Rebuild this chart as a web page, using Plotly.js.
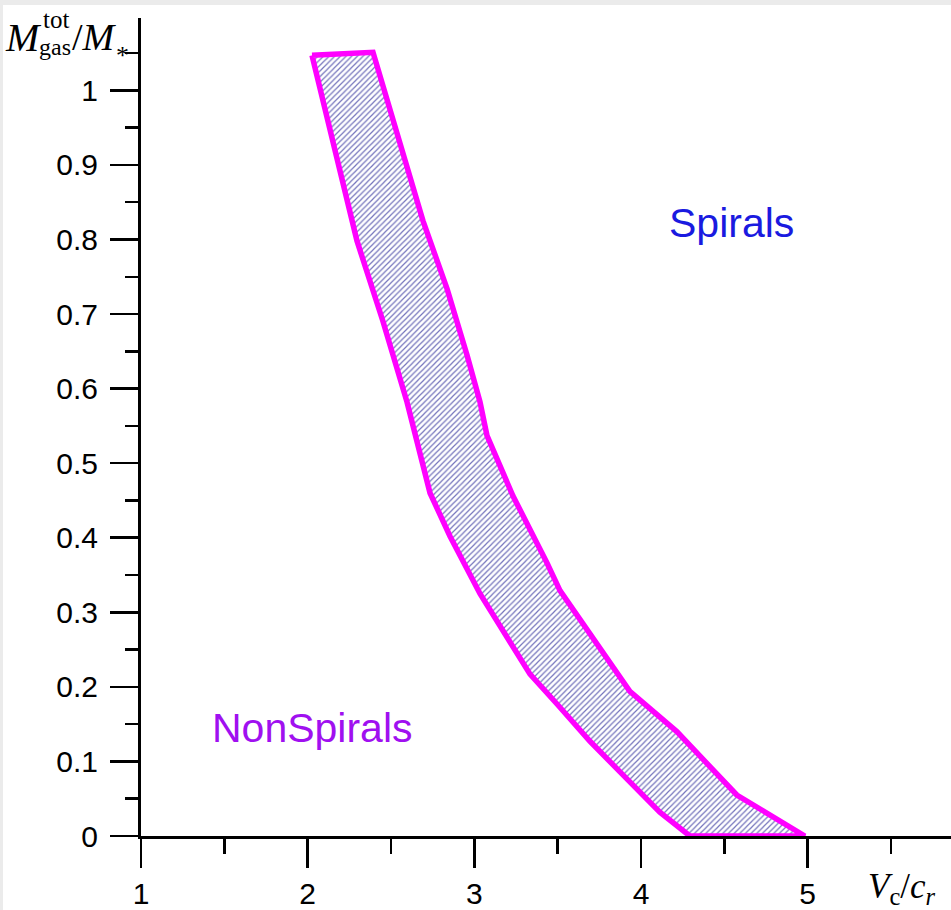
<!DOCTYPE html>
<html>
<head>
<meta charset="utf-8">
<script src="https://cdn.plot.ly/plotly-3.0.1.min.js"></script>
<style>
  html, body { margin: 0; padding: 0; background: #ebebeb; width: 951px; height: 910px; overflow: hidden; }
  #chart { position: absolute; left: 3px; top: 5px; width: 948px; height: 905px; background: #fff; }
</style>
</head>
<body>
<div id="chart"></div>
<script>
// Lower (left) boundary of the band, from top to bottom
const lowerX = [2.026, 2.296, 2.452, 2.596, 2.734, 2.854, 3.034, 3.232, 3.334, 3.496, 3.694, 3.874, 4.113, 4.293];
const lowerY = [1.047, 0.798, 0.690, 0.582, 0.460, 0.402, 0.325, 0.254, 0.217, 0.177, 0.127, 0.086, 0.032, 0.000];
// Upper (right) boundary of the band, from bottom to top
const upperX = [4.983, 4.575, 4.335, 4.215, 3.933, 3.676, 3.514, 3.436, 3.232, 3.076, 3.034, 2.956, 2.836, 2.692, 2.494, 2.392];
const upperY = [0.000, 0.055, 0.113, 0.140, 0.194, 0.275, 0.329, 0.366, 0.456, 0.537, 0.582, 0.645, 0.734, 0.825, 0.977, 1.051];

const xTickVals = [1, 2, 3, 4, 5];
const xTickText = ['1', '2', '3', '4', '5'];
const yTickVals = [0, 0.1, 0.2, 0.3, 0.4, 0.5, 0.6, 0.7, 0.8, 0.9, 1];
const yTickText = ['0', '0.1', '0.2', '0.3', '0.4', '0.5', '0.6', '0.7', '0.8', '0.9', '1'];

const regionLabels = ['Spirals', 'NonSpirals'];

const bandX = lowerX.concat(upperX, [lowerX[0]]);
const bandY = lowerY.concat(upperY, [lowerY[0]]);

// plot area in page px: left 141, top 18, width 810, height 813
const px = p => (p - 141) / 810;
const py = p => (831 - p) / 813;

const trace = {
  x: bandX, y: bandY, type: 'scatter', mode: 'lines',
  fill: 'toself',
  fillpattern: { shape: '/', size: 4, solidity: 0.3, fgcolor: '#7474bc', bgcolor: '#ffffff' },
  line: { color: '#ff00ff', width: 5.5 },
  hoverinfo: 'skip', showlegend: false
};

const serif = 'Liberation Serif, Times New Roman, serif';
const sans = 'Liberation Sans, Arial, sans-serif';

function txt(x, y, text, size, family, color) {
  return { xref: 'paper', yref: 'paper', x: px(x), y: py(y), xanchor: 'left', yanchor: 'middle',
           text: text, showarrow: false, font: { family: family, size: size, color: color || '#000' } };
}

const layout = {
  width: 948, height: 905,
  margin: { l: 138, r: 0, t: 13, b: 74, pad: 0 },
  paper_bgcolor: '#ffffff', plot_bgcolor: '#ffffff',
  showlegend: false,
  xaxis: {
    range: [1, 5.86], showgrid: false, zeroline: false,
    showline: true, linecolor: '#000', linewidth: 3,
    ticks: 'outside', ticklen: 29, tickwidth: 2.5, tickcolor: '#000',
    tickmode: 'array', tickvals: xTickVals, ticktext: xTickText,
    tickfont: { family: sans, size: 30, color: '#000' },
    ticklabelstandoff: 0,
    minor: { dtick: 0.5, tick0: 1, ticks: 'outside', ticklen: 15, tickwidth: 2.5, tickcolor: '#000', showgrid: false },
    fixedrange: true
  },
  yaxis: {
    range: [0, 1.097], showgrid: false, zeroline: false,
    showline: true, linecolor: '#000', linewidth: 3,
    ticks: 'outside', ticklen: 28, tickwidth: 2.5, tickcolor: '#000',
    tickmode: 'array', tickvals: yTickVals, ticktext: yTickText,
    tickfont: { family: sans, size: 30, color: '#000' },
    ticklabelstandoff: 6,
    minor: { dtick: 0.05, tick0: 0, ticks: 'outside', ticklen: 13, tickwidth: 2.5, tickcolor: '#000', showgrid: false },
    fixedrange: true
  },
  annotations: [
    { xref: 'paper', yref: 'paper', x: px(731), y: py(222), xanchor: 'center', yanchor: 'middle',
      text: regionLabels[0], showarrow: false, font: { family: sans, size: 41, color: '#1a1ae0' } },
    { xref: 'paper', yref: 'paper', x: px(312), y: py(724), xanchor: 'center', yanchor: 'middle',
      text: regionLabels[1], showarrow: false, font: { family: sans, size: 41, color: '#a010f0' } },
    // y-axis title  M^tot_gas / M_*
    txt(3, 37, '<i>M</i>', 40, serif),
    txt(41, 19, 'tot', 25, serif),
    txt(37, 47, 'gas', 24, serif),
    txt(70, 37, '/<i>M</i>', 38, serif),
    txt(114, 55, '*', 26, serif),
    // x-axis title  V_c / c_r
    { xref: 'paper', yref: 'paper', x: px(866), y: py(883), xanchor: 'left', yanchor: 'middle',
      text: '<i>V</i><sub>c</sub>/<i>c</i><sub><i>r</i></sub>', showarrow: false,
      font: { family: serif, size: 35, color: '#000' } }
  ]
};

Plotly.newPlot('chart', [trace], layout, { staticPlot: true, displayModeBar: false });
</script>
</body>
</html>
